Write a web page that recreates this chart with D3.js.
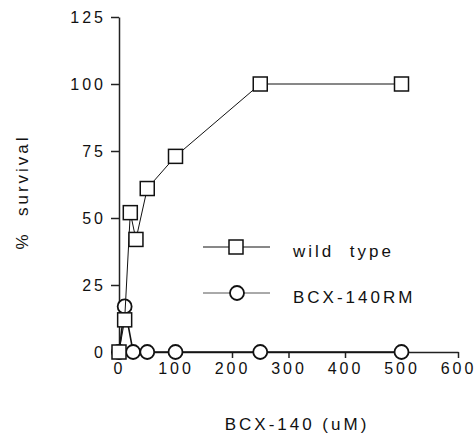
<!DOCTYPE html>
<html>
<head>
<meta charset="utf-8">
<script src="https://cdn.jsdelivr.net/npm/d3@7"></script>
<style>
  body { margin: 0; background: #fff; }
  svg { display: block; }
  text { font-family: "Liberation Sans", Arial, Helvetica, sans-serif; fill: #111; }
  .axis path, .axis line { stroke: #222; stroke-width: 1.5; }
  .axis text { font-size: 16px; letter-spacing: 3px; }
  .label { font-size: 17px; letter-spacing: 3px; white-space: pre; }
</style>
</head>
<body>
<script>
(function(){

    //data
    var conc = [0, 10, 20, 30, 50, 100, 250, 500];        //BCX-140 (uM), wild type
    var wildType = [0, 12, 52, 42, 61, 73, 100, 100];      //% survival
    var concRM = [0, 10, 25, 50, 100, 250, 500];           //BCX-140 (uM), BCX-140RM
    var mutantRM = [0, 17, 0, 0, 0, 0, 0];                 //% survival
    var xTicks = [0, 100, 200, 300, 400, 500, 600];
    var yTicks = [0, 25, 50, 75, 100, 125];
    var seriesNames = ["wild  type", "BCX-140RM"];

    var width = 476, height = 438;

    var svg = d3.select("body")
        .append("svg")
        .attr("width", width)
        .attr("height", height);

    var x = d3.scaleLinear().domain([0, 600]).range([119, 458]);
    var y = d3.scaleLinear().domain([0, 125]).range([352, 17]);

    //axes
    svg.append("g")
        .attr("class", "axis")
        .attr("transform", "translate(" + x(0) + ",0)")
        .call(d3.axisLeft(y).tickValues(yTicks).tickSize(8).tickSizeOuter(0).tickPadding(5));

    svg.append("g")
        .attr("class", "axis")
        .attr("transform", "translate(0," + y(0) + ")")
        .call(d3.axisBottom(x).tickValues(xTicks).tickSize(6).tickSizeOuter(0).tickPadding(5));

    svg.selectAll(".axis .domain").attr("stroke-width", 1.5);

    //axis titles
    svg.append("text")
        .attr("class", "label")
        .attr("transform", "translate(28,192) rotate(-90)")
        .attr("text-anchor", "middle")
        .text("%  survival");

    svg.append("text")
        .attr("class", "label")
        .attr("x", 297)
        .attr("y", 430)
        .attr("text-anchor", "middle")
        .text("BCX-140 (uM)");

    var rmData = concRM.map(function(c, i){ return [c, mutantRM[i]]; });
    var wtData = conc.map(function(c, i){ return [c, wildType[i]]; });

    var line = d3.line()
        .x(function(d){ return x(d[0]); })
        .y(function(d){ return y(d[1]); });

    //BCX-140RM series
    svg.append("path")
        .datum(rmData)
        .attr("d", line)
        .attr("fill", "none")
        .attr("stroke", "#111")
        .attr("stroke-width", 1.6);

    svg.selectAll(".rm")
        .data(rmData)
        .enter()
        .append("circle")
        .attr("class", "rm")
        .attr("cx", function(d){ return x(d[0]); })
        .attr("cy", function(d){ return y(d[1]); })
        .attr("r", 7)
        .attr("fill", "#fff")
        .attr("stroke", "#111")
        .attr("stroke-width", 1.8);

    //wild type series
    svg.append("path")
        .datum(wtData)
        .attr("d", line)
        .attr("fill", "none")
        .attr("stroke", "#111")
        .attr("stroke-width", 1);

    svg.selectAll(".wt")
        .data(wtData)
        .enter()
        .append("rect")
        .attr("class", "wt")
        .attr("x", function(d){ return x(d[0]) - 7; })
        .attr("y", function(d){ return y(d[1]) - 7; })
        .attr("width", 14)
        .attr("height", 14)
        .attr("fill", "#fff")
        .attr("stroke", "#111")
        .attr("stroke-width", 1.5);

    //legend
    var legend = svg.append("g");
    var legendY = [247, 293];

    legend.selectAll(".legLine")
        .data(legendY)
        .enter()
        .append("line")
        .attr("x1", 203)
        .attr("x2", 270)
        .attr("y1", function(d){ return d; })
        .attr("y2", function(d){ return d; })
        .attr("stroke", function(d, i){ return i == 0 ? "#111" : "#555"; })
        .attr("stroke-width", 1);

    legend.append("rect")
        .attr("x", 236 - 7)
        .attr("y", legendY[0] - 7)
        .attr("width", 14)
        .attr("height", 14)
        .attr("fill", "#fff")
        .attr("stroke", "#111")
        .attr("stroke-width", 1.5);

    legend.append("circle")
        .attr("cx", 237)
        .attr("cy", legendY[1])
        .attr("r", 7)
        .attr("fill", "#fff")
        .attr("stroke", "#111")
        .attr("stroke-width", 1.8);

    legend.selectAll(".legText")
        .data(seriesNames)
        .enter()
        .append("text")
        .attr("class", "label")
        .attr("x", 293)
        .attr("y", function(d, i){ return legendY[i] + 10; })
        .text(function(d){ return d; });

})();
</script>
</body>
</html>
